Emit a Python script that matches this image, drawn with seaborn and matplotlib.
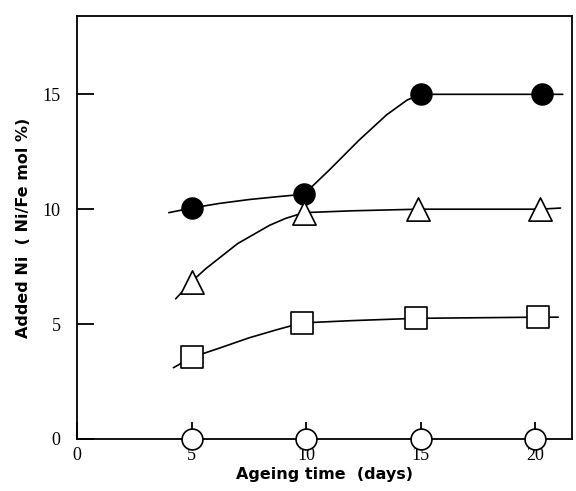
import matplotlib
matplotlib.use("Agg")
import matplotlib.pyplot as plt
import seaborn as sns
import pandas as pd

# ---------------------------------------------------------------------------
# Data (ageing time in days, added Ni in Ni/Fe mol %)
# ---------------------------------------------------------------------------
days_filled = [5.0, 9.9, 15.0, 20.3]
ni_filled = [10.05, 10.65, 15.0, 15.0]

days_tri = [5.0, 9.9, 14.9, 20.2]
ni_tri = [6.85, 9.85, 10.0, 10.0]

days_sq = [5.0, 9.8, 14.8, 20.1]
ni_sq = [3.55, 5.05, 5.25, 5.3]

days_open = [5.0, 10.0, 15.0, 20.0]
ni_open = [0.0, 0.0, 0.0, 0.0]

# hand-drawn guide curves
curve_filled_x = [4.0, 5.0, 6.2, 7.5, 8.8, 9.9, 11.0, 12.3, 13.5, 14.4, 15.0, 20.3, 21.2]
curve_filled_y = [9.85, 10.05, 10.25, 10.42, 10.55, 10.65, 11.7, 13.0, 14.1, 14.75, 15.0, 15.0, 15.0]
curve_tri_x = [4.3, 5.0, 5.6, 6.3, 7.0, 7.7, 8.4, 9.1, 9.9, 12.0, 14.9, 20.2, 21.1]
curve_tri_y = [6.1, 6.85, 7.4, 7.95, 8.5, 8.9, 9.3, 9.6, 9.85, 9.93, 10.0, 10.0, 10.05]
curve_sq_x = [4.2, 5.0, 6.2, 7.5, 8.7, 9.8, 12.0, 14.8, 20.1, 21.0]
curve_sq_y = [3.1, 3.55, 3.95, 4.4, 4.75, 5.05, 5.15, 5.25, 5.3, 5.3]

x_ticks = [0, 5, 10, 15, 20]
y_ticks = [0, 5, 10, 15]

sns.set_style("white")
plt.rcParams["font.family"] = ["DejaVu Sans"]

fig = plt.figure(figsize=(5.76, 4.91), dpi=100)
ax = fig.add_axes([0.134, 0.106, 0.859, 0.861])

# guide curves
for cx, cy in [(curve_filled_x, curve_filled_y),
               (curve_tri_x, curve_tri_y),
               (curve_sq_x, curve_sq_y)]:
    df = pd.DataFrame({"x": cx, "y": cy})
    sns.lineplot(data=df, x="x", y="y", sort=False, color="black",
                 linewidth=1.2, ax=ax, zorder=2)

# markers
series = [
    (days_filled, ni_filled, "o", "black", 225),
    (days_tri, ni_tri, "^", "white", 280),
    (days_sq, ni_sq, "s", "white", 235),
    (days_open, ni_open, "o", "white", 225),
]
for dx, dy, mk, fc, size in series:
    df = pd.DataFrame({"x": dx, "y": dy})
    sns.scatterplot(data=df, x="x", y="y", marker=mk, s=size,
                    facecolor=fc, edgecolor="black", linewidth=1.2,
                    ax=ax, zorder=4, clip_on=False)

ax.set_xlim(0, 21.6)
ax.set_ylim(0, 18.4)
ax.set_xticks(x_ticks)
ax.set_yticks(y_ticks)
ax.tick_params(bottom=True, left=True, direction="in", length=12, width=1.3,
               color="black", labelcolor="black")
ax.tick_params(axis="x", pad=6)
ax.tick_params(axis="y", pad=12)
for lab in ax.get_xticklabels() + ax.get_yticklabels():
    lab.set_fontfamily("Liberation Serif")
    lab.set_fontsize(13)
for sp in ax.spines.values():
    sp.set_color("black")
    sp.set_linewidth(1.3)

ax.set_xlabel("Ageing time  (days)", fontsize=11.5, fontweight="bold",
              color="black", labelpad=2)
ax.set_ylabel("Added Ni  ( Ni/Fe mol %)", fontsize=11.5, fontweight="bold",
              color="black", labelpad=8)

fig.savefig("out.png", dpi=100)
